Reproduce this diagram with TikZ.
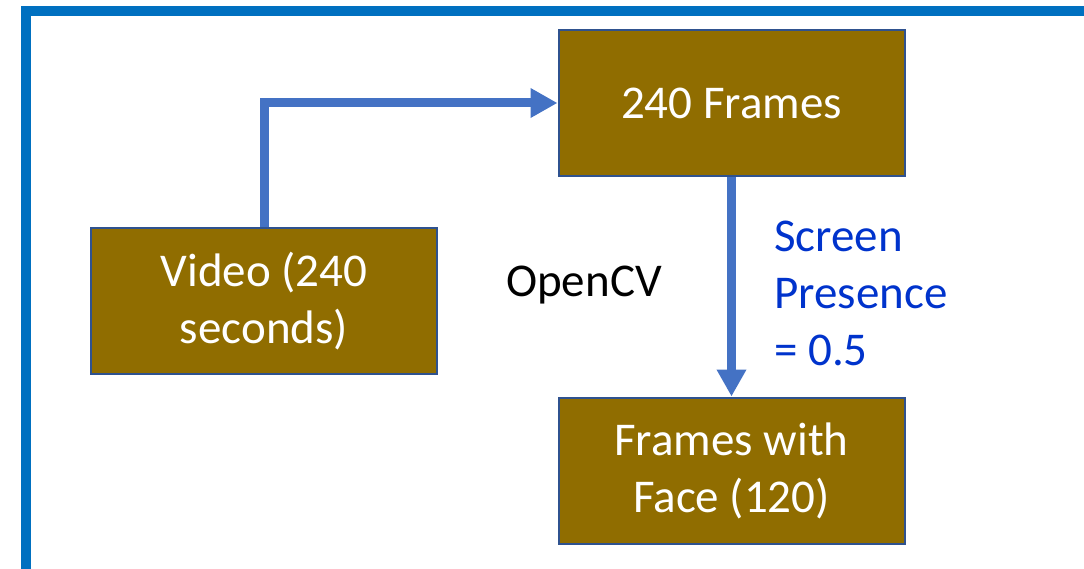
\documentclass[tikz,border=0pt]{standalone}
\usepackage{fontspec}
\setmainfont{Carlito}
\usetikzlibrary{arrows.meta,positioning}
\definecolor{frameblue}{RGB}{0,112,192}
\definecolor{boxfill}{RGB}{144,109,0}
\definecolor{boxline}{RGB}{47,82,143}
\definecolor{flowblue}{RGB}{68,114,196}
\definecolor{notetext}{RGB}{0,51,204}
\tikzset{
	stagebox/.style={draw=boxline,line width=2pt,fill=boxfill,text=white,
		minimum width=346pt,minimum height=146pt,align=center,inner sep=0pt,
		font=\fontsize{47}{57}\selectfont},
	flow/.style={draw=flowblue,line width=9pt,-{Triangle[length=27pt,width=28pt]}},
	note/.style={font=\fontsize{47}{57}\selectfont,inner sep=0pt}
}
\begin{document}
\begin{tikzpicture}[x=1pt,y=-1pt]
	\useasboundingbox (0,0) rectangle (1084,569);
	% outer frame, cut off right and bottom
	\draw[frameblue,line width=10pt] (25.5,575) -- (25.5,11.5) -- (1090,11.5);
	\node[stagebox] (video) at (264,301) {Video (240\\seconds)};
	\node[stagebox] (frames) at (731.5,103) {240 Frames};
	\node[stagebox] (face) at (731.5,470.5) {Frames with\\Face (120)};
	\node[note] (opencv) at (584,285) {OpenCV};
	\node[note,text=notetext,align=left,anchor=west] (presence) at (774,293) {Screen\\Presence\\= 0.5};
	\draw[flow] (video.north) -- (video.north |- frames.west) -- (frames.west);
	\draw[flow] (frames.south) -- (face.north);
\end{tikzpicture}
\end{document}
